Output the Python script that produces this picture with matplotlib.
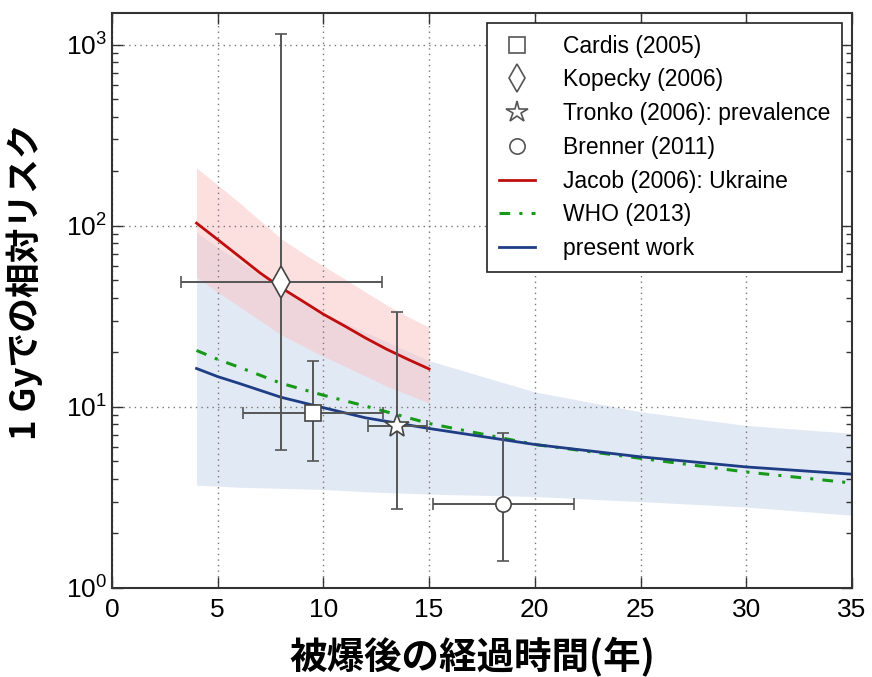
import matplotlib
matplotlib.use("Agg")
import matplotlib.pyplot as plt
from matplotlib.ticker import LogLocator, NullFormatter

# --- data --------------------------------------------------------------
# measured points: (x, y) with x-range and y-range of the error bars
cardis_x, cardis_y = 9.5, 9.2
cardis_xr, cardis_yr = (6.2, 12.8), (5.0, 18.0)
kopecky_x, kopecky_y = 8.0, 48.7
kopecky_xr, kopecky_yr = (3.25, 12.75), (5.8, 1140.0)
tronko_x, tronko_y = 13.5, 7.85
tronko_xr, tronko_yr = (12.1, 14.9), (2.72, 33.6)
brenner_x, brenner_y = 18.5, 2.9
brenner_xr, brenner_yr = (15.2, 21.85), (1.41, 7.2)

# Jacob (2006): Ukraine, with its band
jacob_t = [4, 5, 6, 7, 8, 9, 10, 11, 12, 13, 14, 15]
jacob_rr = [103.5, 84, 68, 55, 45.5, 38.5, 32.5, 28, 24, 20.8, 18.3, 16.2]
jacob_hi = [209, 168, 135, 107, 85, 71, 60, 51, 43, 36.5, 31.5, 27.5]
jacob_lo = [52, 43, 36, 30, 25, 21.8, 19, 16.8, 14.8, 13, 11.7, 10.5]

# present work, with its band, and WHO (2013)
model_t = [4, 5, 6, 8, 10, 12, 15, 20, 25, 30, 35]
model_rr = [16.3, 14.7, 13.5, 11.3, 9.9, 8.7, 7.6, 6.2, 5.3, 4.66, 4.25]
model_hi = [92, 76, 64, 45, 33, 25.8, 18, 12.1, 9.4, 7.9, 7.15]
model_lo = [3.7, 3.65, 3.6, 3.55, 3.5, 3.4, 3.3, 3.2, 3.0, 2.8, 2.52]
who_rr = [20.5, 18.3, 16.6, 13.5, 11.6, 10.1, 8.1, 6.2, 5.2, 4.37, 3.8]

x_ticks = [0, 5, 10, 15, 20, 25, 30, 35]

# --- plot ---------------------------------------------------------------
plt.rcParams["font.family"] = ["Liberation Sans", "DejaVu Sans"]
jp = ["Noto Sans CJK JP", "DejaVu Sans"]

fig = plt.figure(figsize=(8.72, 6.77), dpi=100)
ax = fig.add_axes([0.1284, 0.1315, 0.977 - 0.1284, 0.981 - 0.1315])

ax.fill_between(model_t, model_lo, model_hi, color="#c5d4ec", alpha=0.5, lw=0)
ax.fill_between(jacob_t, jacob_lo, jacob_hi, color="#fbc2c2", alpha=0.5, lw=0)

red_line, = ax.plot(jacob_t, jacob_rr, color="#c00d0d", lw=2)
who_line, = ax.plot(model_t, who_rr, color="#179a17", lw=2.2,
                    dashes=[3.5, 3, 1, 3])
blue_line, = ax.plot(model_t, model_rr, color="#1f3d85", lw=2)

err_kw = dict(ecolor="#555555", elinewidth=1.4, capsize=4, capthick=1.4,
              mfc="white", mec="#444444", mew=1.2, ls="none", zorder=5)


def point(x, y, xr, yr, marker, ms):
    return ax.errorbar([x], [y], xerr=[[x - xr[0]], [xr[1] - x]],
                       yerr=[[y - yr[0]], [yr[1] - y]],
                       marker=marker, ms=ms, **err_kw)


point(cardis_x, cardis_y, cardis_xr, cardis_yr, "s", 11)
point(kopecky_x, kopecky_y, kopecky_xr, kopecky_yr, "d", 16)
point(tronko_x, tronko_y, tronko_xr, tronko_yr, "*", 18)
point(brenner_x, brenner_y, brenner_xr, brenner_yr, "o", 11)

ax.set_yscale("log")
ax.set_xlim(0, 35)
ax.set_ylim(1, 1500)
ax.set_xticks(x_ticks)
ax.yaxis.set_major_locator(LogLocator(base=10, numticks=10))
ax.yaxis.set_minor_locator(LogLocator(base=10, subs=range(2, 10), numticks=10))
ax.yaxis.set_minor_formatter(NullFormatter())
ax.tick_params(which="both", direction="in", top=True, right=True,
               labelsize=19, color="#333333")
ax.tick_params(which="major", length=8, width=1)
ax.tick_params(which="minor", length=4, width=1)
ax.tick_params(axis="x", pad=7)
ax.grid(True, which="major", ls=(0, (1, 3)), color="#777777", lw=1)
for s in ax.spines.values():
    s.set_linewidth(1.5)
    s.set_color("#333333")

ax.set_xlabel("被爆後の経過時間(年)", family=jp, fontsize=27,
              fontweight="bold")
ax.xaxis.set_label_coords(0.487, -0.085)
ax.set_ylabel("1 Gyでの相対リスク", family=jp, fontsize=25,
              fontweight="bold")
ax.yaxis.set_label_coords(-0.093, 0.532)

# legend with open marker symbols
mk = dict(ls="none", mfc="white", mec="#555555", mew=1.2)
handles = [
    plt.Line2D([], [], marker="s", ms=11, **mk),
    plt.Line2D([], [], marker="d", ms=14, **mk),
    plt.Line2D([], [], marker="*", ms=16, **mk),
    plt.Line2D([], [], marker="o", ms=11, **mk),
    red_line, who_line, blue_line,
]
labels = ["Cardis (2005)", "Kopecky (2006)", "Tronko (2006): prevalence",
          "Brenner (2011)", "Jacob (2006): Ukraine", "WHO (2013)",
          "present work"]
leg = ax.legend(handles, labels, loc="upper right", fontsize=16.5,
                fancybox=False, framealpha=1, edgecolor="#222222",
                labelspacing=0.47, borderaxespad=0.45, handlelength=1.6,
                handletextpad=1.2, borderpad=0.5)
leg.get_frame().set_linewidth(1.2)

fig.savefig("out.png", dpi=100)
